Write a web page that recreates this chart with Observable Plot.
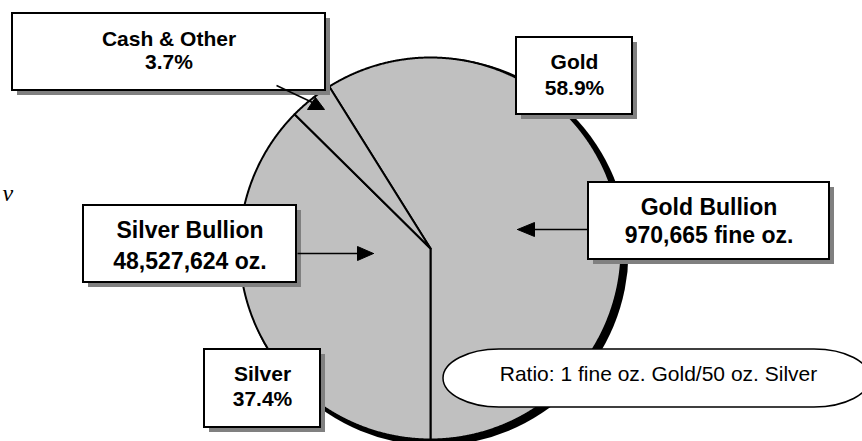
<!DOCTYPE html>
<html><head><meta charset="utf-8">
<script src="https://cdn.jsdelivr.net/npm/d3@7"></script>
<script src="https://cdn.jsdelivr.net/npm/@observablehq/plot@0.6"></script>
<style>html,body{margin:0;padding:0;background:#fff;overflow:hidden} #chart svg{display:block}</style>
</head><body><div id="chart"></div>
<script>
// ---- data ----
const categories = ["Gold", "Silver", "Cash & Other"];
const shares = [58.9, 37.4, 3.7];
const shareLabels = ["58.9%", "37.4%", "3.7%"];
const holdingNames = ["Gold Bullion", "Silver Bullion"];
const holdingAmounts = ["970,665 fine oz.", "48,527,624 oz."];
const ratioNote = "Ratio: 1 fine oz. Gold/50 oz. Silver";
const strayGlyph = "v";

// ---- layout ----
const W = 862, H = 441;
const pie = {cx: 430, cy: 248, r: 191};
const shadow = {dx: 4, dy: 3, dr: 3};
const FONT = "'Liberation Sans', Arial, Helvetica, sans-serif";

// Gold's slice ends pointing straight down
const deg = Math.PI / 180;
const start = (180 - shares[0] * 3.6) * deg;
const arcs = d3.pie().sort(null).startAngle(start).endAngle(start + 2 * Math.PI)(shares);

const slicePts = [];
arcs.forEach((a, i) => {
  const n = Math.max(2, Math.ceil((a.endAngle - a.startAngle) / (0.25 * deg)));
  slicePts.push({slice: categories[i], x: pie.cx, y: pie.cy});
  for (let k = 0; k <= n; k++) {
    const t = a.startAngle + (a.endAngle - a.startAngle) * k / n;
    slicePts.push({slice: categories[i], x: pie.cx + pie.r * Math.sin(t), y: pie.cy - pie.r * Math.cos(t)});
  }
  slicePts.push({slice: categories[i], x: pie.cx, y: pie.cy});
});

// label boxes
const boxes = [
  {x1: 12, y1: 13, x2: 325, y2: 90, fs: 21, lines: [[categories[2], 45], [shareLabels[2], 68]]},
  {x1: 516, y1: 37, x2: 632, y2: 114, fs: 21, lines: [[categories[0], 68], [shareLabels[0], 94]]},
  {x1: 588, y1: 182, x2: 829, y2: 259, fs: 23, lines: [[holdingNames[0], 214], [holdingAmounts[0], 242]]},
  {x1: 83, y1: 205, x2: 296, y2: 282, fs: 23, lines: [[holdingNames[1], 237], [holdingAmounts[1], 268]]},
  {x1: 204, y1: 349, x2: 320, y2: 427, fs: 21, lines: [[categories[1], 380], [shareLabels[1], 405]]}
];
const boxShadow = 5;
const textRows = boxes.flatMap(b => b.lines.map(([t, base]) => ({text: t, x: (b.x1 + b.x2) / 2, y: base, fs: b.fs})));

const oval = [{x1: 443, x2: 870, y1: 349, y2: 407}];
const ovalText = [{text: ratioNote, x: 658, y: 380}];

// arrows
const arrowLines = [
  {id: "cash", x: 276, y: 85}, {id: "cash", x: 312, y: 102},
  {id: "silver", x: 297, y: 253}, {id: "silver", x: 360, y: 253},
  {id: "gold", x: 588, y: 229}, {id: "gold", x: 530, y: 229}
];
const heads = [
  {id: "cash", x: 315, y: 97}, {id: "cash", x: 324, y: 109}, {id: "cash", x: 307, y: 109}, {id: "cash", x: 315, y: 97},
  {id: "silver", x: 373, y: 253}, {id: "silver", x: 357, y: 246}, {id: "silver", x: 357, y: 260}, {id: "silver", x: 373, y: 253},
  {id: "gold", x: 517, y: 229}, {id: "gold", x: 534, y: 222}, {id: "gold", x: 534, y: 236}, {id: "gold", x: 517, y: 229}
];

const chart = Plot.plot({
  width: W, height: H, margin: 0,
  x: {domain: [0, W], range: [0, W], axis: null},
  y: {domain: [0, H], range: [0, H], axis: null},
  style: {background: "#fff"},
  marks: [
    // pie drop shadow
    Plot.dot([{x: pie.cx + shadow.dx, y: pie.cy + shadow.dy}], {x: "x", y: "y", r: pie.r + shadow.dr, fill: "#000", stroke: "none"}),
    // slices
    Plot.line(slicePts, {x: "x", y: "y", z: "slice", fill: "#c0c0c0", stroke: "#000", strokeWidth: 2, strokeLinejoin: "round"}),
    // ratio oval
    Plot.rect(oval, {x1: "x1", x2: "x2", y1: "y1", y2: "y2", rx: 56, ry: 29, fill: "#fff", stroke: "#000", strokeWidth: 1.5}),
    Plot.text(ovalText, {x: "x", y: "y", text: "text", lineAnchor: "bottom", fontSize: 21, fontFamily: FONT, fill: "#000"}),
    // box shadows and boxes
    Plot.rect(boxes, {x1: d => d.x1 + boxShadow, x2: d => d.x2 + boxShadow, y1: d => d.y1 + boxShadow, y2: d => d.y2 + boxShadow, fill: "#808080"}),
    Plot.rect(boxes, {x1: "x1", x2: "x2", y1: "y1", y2: "y2", fill: "#fff", stroke: "#000", strokeWidth: 2}),
    Plot.text(textRows, {x: "x", y: "y", text: "text", fontSize: d => d.fs, lineAnchor: "bottom", fontWeight: "bold", fontFamily: FONT, fill: "#000"}),
    // arrows
    Plot.line(arrowLines, {x: "x", y: "y", z: "id", stroke: "#000", strokeWidth: 1.5, strokeLinecap: "butt"}),
    Plot.line(heads, {x: "x", y: "y", z: "id", fill: "#000", stroke: "#000", strokeWidth: 1}),
    // stray glyph near the left edge
    Plot.text([{text: strayGlyph, x: 2, y: 200}], {x: "x", y: "y", text: "text", textAnchor: "start", lineAnchor: "bottom", fontSize: 24, fontStyle: "italic", fontFamily: "'Liberation Serif', 'Times New Roman', serif", fill: "#000"})
  ]
});
document.getElementById("chart").appendChild(chart);
</script>
</body></html>
